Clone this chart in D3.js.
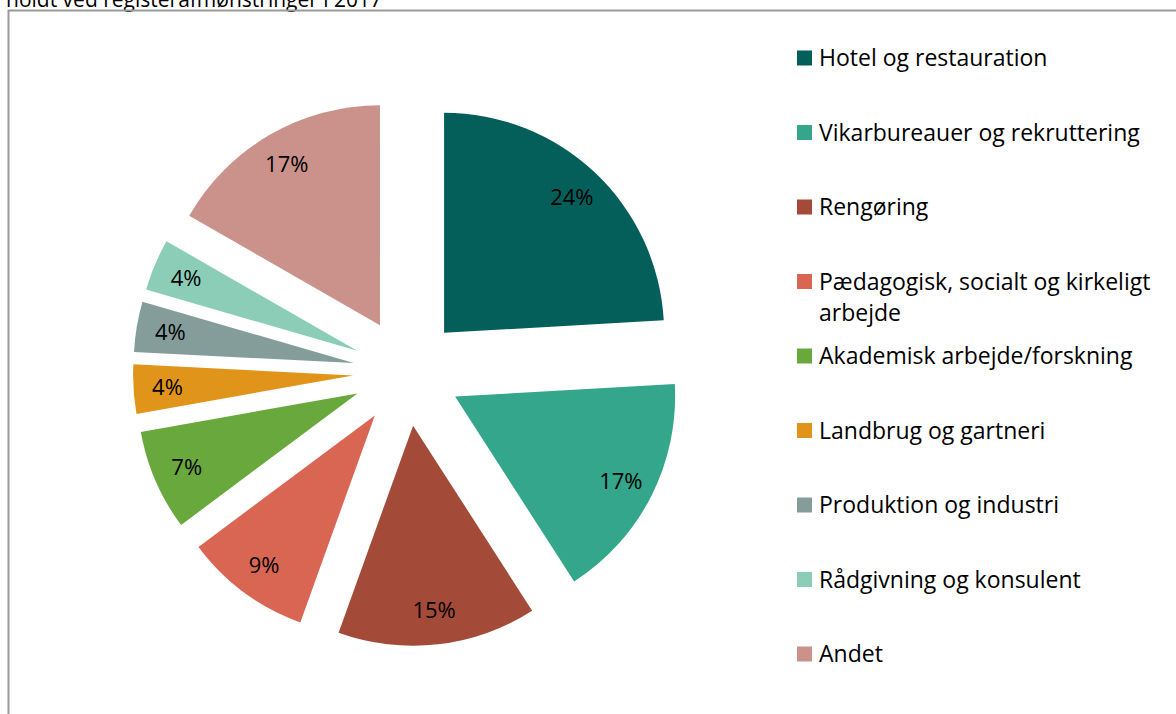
<!DOCTYPE html>
<html>
<head>
<meta charset="utf-8">
<script src="https://cdn.jsdelivr.net/npm/d3@7"></script>
<style>
    body { margin: 0; background: #fff; }
    svg { display: block; font-family: "Open Sans", Lato, sans-serif; }
</style>
</head>
<body>
<div id="chart"></div>
<script>
// Data
const categories = [
    'Hotel og restauration',
    'Vikarbureauer og rekruttering',
    'Rengøring',
    'Pædagogisk, socialt og kirkeligt arbejde',
    'Akademisk arbejde/forskning',
    'Landbrug og gartneri',
    'Produktion og industri',
    'Rådgivning og konsulent',
    'Andet'
];
const shares = [24.1, 16.8, 14.6, 9.3, 7.4, 3.6, 3.7, 3.8, 16.7];
const colors = ['#045f5b', '#33a68b', '#a44a38', '#d96553', '#68a83d', '#e0951a', '#849d9b', '#8ccdb8', '#cb928c'];
const titleText = 'holdt ved registerafmønstringer i 2017';

const width = 1176, height = 714;
const center = { x: 407, y: 372 };
const radius = 220;
const explode = 54;
const labelRadius = 186;

const svg = d3.select('#chart')
    .append('svg')
    .attr('width', width)
    .attr('height', height);

// cut-off title line above the frame
svg.append('text')
    .attr('x', 6)
    .attr('y', 7)
    .style('font-size', '21px')
    .style('fill', '#000')
    .text(titleText);

// chart frame
svg.append('rect')
    .attr('x', 8.5)
    .attr('y', 10.5)
    .attr('width', width + 20)
    .attr('height', height + 20)
    .attr('fill', 'none')
    .attr('stroke', '#9a9a9a')
    .attr('stroke-width', 2);

const data = categories.map((c, i) => ({ label: c, value: shares[i], color: colors[i] }));

const pie = d3.pie()
    .value(d => d.value)
    .sort(null);

const arc = d3.arc()
    .innerRadius(0)
    .outerRadius(radius);

const labelArc = d3.arc()
    .innerRadius(labelRadius)
    .outerRadius(labelRadius);

const g = svg.append('g')
    .attr('transform', `translate(${center.x},${center.y})`);

const slices = g.selectAll('.arc')
    .data(pie(data))
    .enter()
    .append('g')
    .attr('class', 'arc')
    .attr('transform', d => {
        const mid = (d.startAngle + d.endAngle) / 2;
        return `translate(${explode * Math.sin(mid)},${-explode * Math.cos(mid)})`;
    });

slices.append('path')
    .attr('d', arc)
    .attr('fill', d => d.data.color);

slices.append('text')
    .attr('transform', d => `translate(${labelArc.centroid(d)})`)
    .attr('dy', '.35em')
    .style('text-anchor', 'middle')
    .style('font-size', '22px')
    .style('fill', '#000')
    .text(d => Math.round(d.data.value) + '%');

// Legend
const legend = svg.append('g')
    .attr('class', 'legend')
    .attr('transform', 'translate(797, 58)');

const legendItems = legend.selectAll('.legend-item')
    .data(data)
    .enter()
    .append('g')
    .attr('class', 'legend-item')
    .attr('transform', (d, i) => `translate(0, ${i * 74.5})`);

legendItems.append('rect')
    .attr('x', 0)
    .attr('y', -7.5)
    .attr('width', 15)
    .attr('height', 15)
    .attr('fill', d => d.color);

const maxLegendWidth = 345;
legendItems.append('text')
    .attr('x', 22)
    .attr('y', 0)
    .style('font-size', '23px')
    .style('fill', '#000')
    .each(function(d) {
        const text = d3.select(this);
        const words = d.label.split(' ');
        let line = [];
        let tspan = text.append('tspan').attr('x', 22).attr('dy', '.35em');
        words.forEach(w => {
            line.push(w);
            tspan.text(line.join(' '));
            if (tspan.node().getComputedTextLength() > maxLegendWidth && line.length > 1) {
                line.pop();
                tspan.text(line.join(' '));
                line = [w];
                tspan = text.append('tspan').attr('x', 22).attr('dy', '1.35em').text(w);
            }
        });
    });
</script>
</body>
</html>
